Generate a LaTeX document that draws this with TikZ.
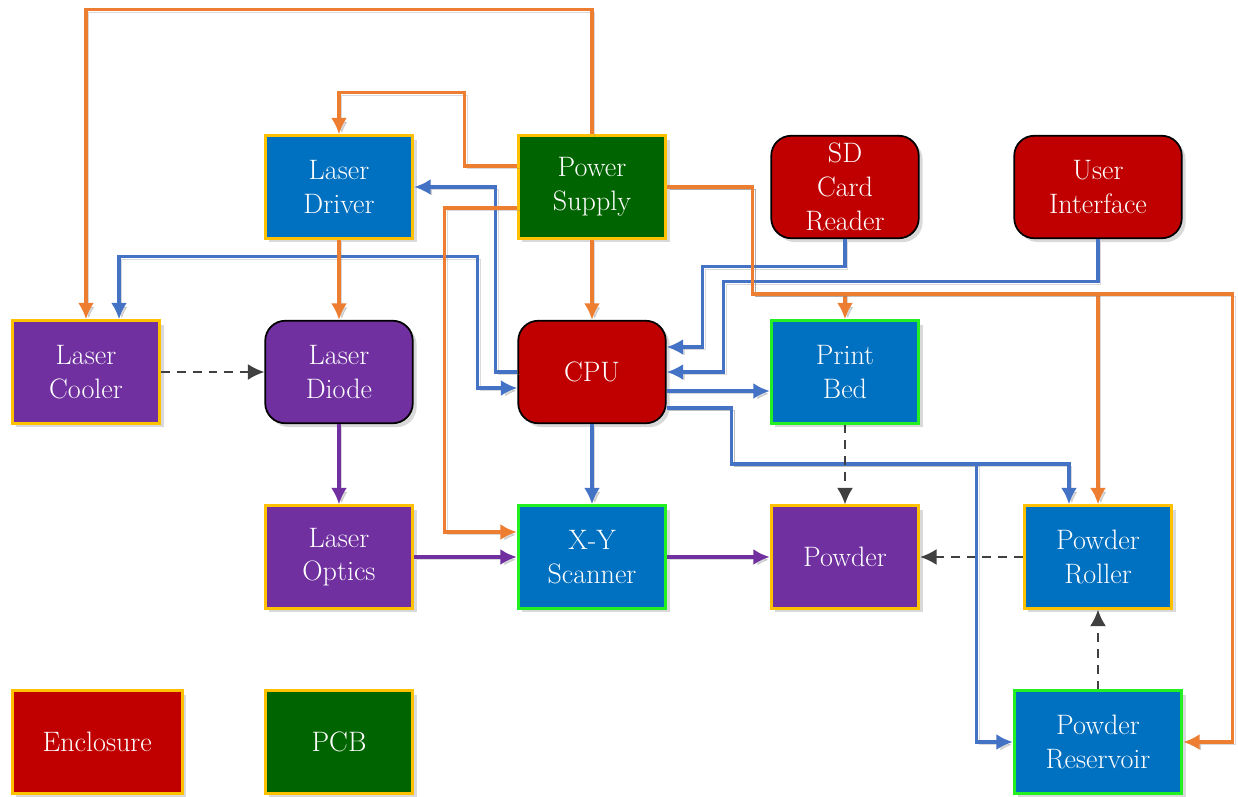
\documentclass[tikz,border=0pt]{standalone}
\usepackage{tikz}
\usetikzlibrary{calc,positioning,shadows,arrows.meta}

\definecolor{boxblue}{HTML}{0070C0}
\definecolor{boxred}{HTML}{C00000}
\definecolor{boxgreen}{HTML}{006400}
\definecolor{boxpurple}{HTML}{7030A0}
\definecolor{rimamber}{HTML}{FFC000}
\definecolor{rimlime}{HTML}{22F022}
\definecolor{pwrorange}{HTML}{ED7D31}
\definecolor{datablue}{HTML}{4472C4}
\definecolor{mechgray}{HTML}{404040}

\begin{document}
\begin{tikzpicture}[
  >={Latex[length=3.3mm,width=3.2mm]},
  x=50.6mm, y=37mm,          % one column / one row of blocks
  blk/.style={rectangle, draw, line width=1.6pt, minimum width=29.5mm, minimum height=20.5mm,
    inner sep=1pt, align=center, text=white, font=\fontsize{16}{19.2}\selectfont,
    drop shadow={opacity=0.3, shadow xshift=2.2pt, shadow yshift=-2.2pt}},
  ambr/.style={blk, draw=rimamber},  % off-board parts
  lime/.style={blk, draw=rimlime},   % moving parts
  soft/.style={blk, draw=black, line width=1pt, rounded corners=4mm},
  lshadow/.style={preaction={draw=black!50, opacity=0.3, transform canvas={shift={(1.6pt,-1.6pt)}}}},
  pwr/.style={->, draw=pwrorange, line width=1.8pt, lshadow},
  dat/.style={->, draw=datablue, line width=1.8pt, lshadow},
  beam/.style={->, draw=boxpurple, line width=1.8pt, lshadow},
  mech/.style={->, draw=mechgray, dash pattern=on 5pt off 4pt, line width=1.1pt}
]
\useasboundingbox (-1.72cm,3.74cm) rectangle (23.04cm,-12.18cm);

% --- blocks
\node[ambr, fill=boxblue]   (ldriver) at (1,0) {Laser\\Driver};
\node[ambr, fill=boxgreen]  (psu)     at (2,0) {Power\\Supply};
\node[soft, fill=boxred]    (sd)      at (3,0) {SD\\Card\\Reader};
\node[soft, fill=boxred, minimum width=33.5mm] (ui) at (4,0) {User\\Interface};

\node[ambr, fill=boxpurple] (cooler) at (0,-1) {Laser\\Cooler};
\node[soft, fill=boxpurple] (diode)  at (1,-1) {Laser\\Diode};
\node[soft, fill=boxred]    (cpu)    at (2,-1) {CPU};
\node[lime, fill=boxblue]   (bed)    at (3,-1) {Print\\Bed};

\node[ambr, fill=boxpurple] (optics) at (1,-2) {Laser\\Optics};
\node[lime, fill=boxblue]   (xy)     at (2,-2) {X-Y\\Scanner};
\node[ambr, fill=boxpurple] (powder) at (3,-2) {Powder};
\node[ambr, fill=boxblue]   (roller) at (4,-2) {Powder\\Roller};

\node[ambr, fill=boxgreen]  (pcb)       at (1,-3) {PCB};
\node[ambr, fill=boxred, minimum width=34mm, anchor=west] (encl) at (cooler.west |- pcb) {Enclosure};
\node[lime, fill=boxblue, minimum width=33.5mm] (reservoir) at (4,-3) {Powder\\Reservoir};

% ===== data lines =====
\draw[dat] (cpu.west) -- ++(-4.4mm,0) |- (ldriver.east);
\draw[dat,<->] ([xshift=6.6mm]cooler.north) -- ++(0,12.6mm)
  -| ([xshift=-8mm,yshift=-3.2mm]cpu.west) -- ([yshift=-3.2mm]cpu.west);
\draw[dat] (sd.south) -- ++(0,-5.4mm) -| ([xshift=7.2mm,yshift=5mm]cpu.east) -- ([yshift=5mm]cpu.east);
\draw[dat] (ui.south) -- ++(0,-8.4mm) -| ([xshift=11.4mm]cpu.east) -- (cpu.east);
\draw[dat] ([yshift=-3.8mm]cpu.east) -- ([yshift=-3.8mm]bed.west);
\draw[dat] ([yshift=-7.2mm]cpu.east) -- ++(13mm,0) -- ++(0,-11.2mm) -| ([xshift=-5.8mm]roller.north);
\draw[dat] ([yshift=-7.2mm]cpu.east) -- ++(13mm,0) -- ++(0,-11.2mm)
  -| ([xshift=-7.2mm]reservoir.west) -- (reservoir.west);
\draw[dat] (cpu) -- (xy);

% ===== laser path =====
\draw[beam] (diode) -- (optics);
\draw[beam] (optics) -- (xy);
\draw[beam] (xy) -- (powder);

% ===== mechanical (dashed) =====
\draw[mech] (cooler) -- (diode);
\draw[mech] (bed) -- (powder);
\draw[mech] (roller) -- (powder);
\draw[mech] (reservoir) -- (roller);

% ===== power lines =====
\draw[pwr] (psu.north) -- ++(0,25mm) -| (cooler.north);
\draw[pwr] ([yshift=4.2mm]psu.west) -- ++(-10.4mm,0) |- ([yshift=8.4mm]ldriver.north) -- (ldriver.north);
\draw[pwr] ([yshift=-4.2mm]psu.west) -- ++(-14.4mm,0) |- ([yshift=5mm]xy.west);
\draw[pwr] (psu) -- (cpu);
\draw[pwr] (ldriver) -- (diode);
\draw[pwr] (psu.east) -- ++(17mm,0) -- ++(0,-21.4mm) -| (bed.north);
\draw[pwr] (psu.east) -- ++(17mm,0) -- ++(0,-21.4mm) -| (roller.north);
\draw[pwr] (psu.east) -- ++(17mm,0) -- ++(0,-21.4mm)
  -| ([xshift=9.8mm]reservoir.east) -- (reservoir.east);

\end{tikzpicture}
\end{document}
